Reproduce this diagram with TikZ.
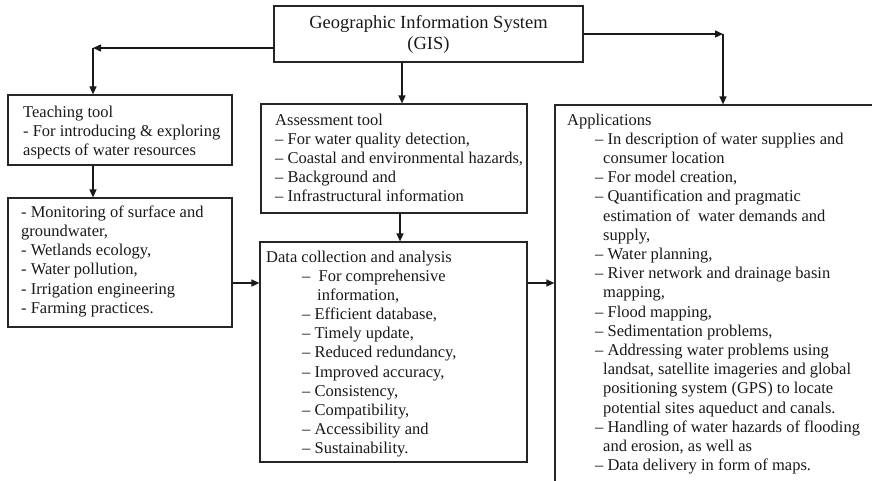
\documentclass[tikz,border=0pt]{standalone}
\usepackage{fontspec}
\setmainfont{Liberation Serif}
\usetikzlibrary{arrows.meta}
\begin{document}
\begin{tikzpicture}[x=1pt,y=-1pt,
  box/.style={draw=black!85, line width=1.2pt, inner sep=0pt},
  flow/.style={draw=black!90, line width=1.4pt, -{Triangle[length=8pt,width=7pt]}},
  link/.style={draw=black!90, line width=1.4pt},
  txt/.style={anchor=north west, inner sep=0pt, align=left,
    font=\fontsize{16.5}{19.2}\selectfont, text=black!90}]
\path[use as bounding box] (0,0) rectangle (872,480);
\clip (0,0) rectangle (872,480);

% boxes
\node[box, minimum width=309pt, minimum height=56pt, align=center,
  font=\fontsize{18.5}{21}\selectfont, text=black!90] (gis) at (428.5,34)
  {Geographic Information System\\(GIS)};
\node[box, minimum width=224pt, minimum height=70pt] (teach) at (120,130) {};
\node[box, minimum width=224pt, minimum height=129pt] (mon) at (120,262.5) {};
\node[box, minimum width=266pt, minimum height=109pt] (assess) at (394,158.5) {};
\node[box, minimum width=267pt, minimum height=220pt] (data) at (393.5,352) {};
\node[box, minimum width=330pt, minimum height=390pt] (apps) at (720,300) {};

% box texts
\node[txt] (teachtxt) at (23,105.5) {Teaching tool\\- For introducing \& exploring\\aspects of water resources};
\node[txt] (montxt) at (21,205.5) {- Monitoring of surface and\\groundwater,\\- Wetlands ecology,\\- Water pollution,\\- Irrigation engineering\\- Farming practices.};
\node[txt] (assesstxt) at (275,113.5) {Assessment tool\\– For water quality detection,\\– Coastal and environmental hazards,\\– Background and\\– Infrastructural information};
\node[txt] (datahead) at (266,250.5) {Data collection and analysis};
\node[txt] (datatxt) at (302,269.5) {–\ \ For comprehensive\\\hspace*{15pt}information,\\– Efficient database,\\– Timely update,\\– Reduced redundancy,\\– Improved accuracy,\\– Consistency,\\– Compatibility,\\– Accessibility and\\– Sustainability.};
\node[txt] (appshead) at (567,113.5) {Applications};
\node[txt] (appstxt) at (595,132.5) {– In description of water supplies and\\\hspace*{8pt}consumer location\\– For model creation,\\– Quantification and pragmatic\\\hspace*{8pt}estimation of\ \ water demands and\\\hspace*{8pt}supply,\\– Water planning,\\– River network and drainage basin\\\hspace*{8pt}mapping,\\– Flood mapping,\\– Sedimentation problems,\\– Addressing water problems using\\\hspace*{8pt}landsat, satellite imageries and global\\\hspace*{8pt}positioning system (GPS) to locate\\\hspace*{8pt}potential sites aqueduct and canals.\\– Handling of water hazards of flooding\\\hspace*{8pt}and erosion, as well as\\– Data delivery in form of maps.};

% connector bends
\coordinate (lk) at (93,48);
\coordinate (rk) at (723,34);
\coordinate (mk) at (402,0);
\coordinate (tk) at (93,0);
\coordinate (ak) at (400,0);
\coordinate (hk) at (0,283);

% connectors
\draw[flow] (gis.west |- lk) -- (lk);
\draw[flow] (lk) -- (lk |- teach.north);
\draw[flow] (gis.east |- rk) -- (rk);
\draw[flow] (rk) -- (rk |- apps.north);
\draw[flow] (gis.south -| mk) -- (mk |- assess.north);
\draw[flow] (teach.south -| tk) -- (tk |- mon.north);
\draw[flow] (assess.south -| ak) -- (ak |- data.north);
\draw[flow] (mon.east |- hk) -- (data.west |- hk);
\draw[flow] (data.east |- hk) -- (apps.west |- hk);
\end{tikzpicture}
\end{document}
